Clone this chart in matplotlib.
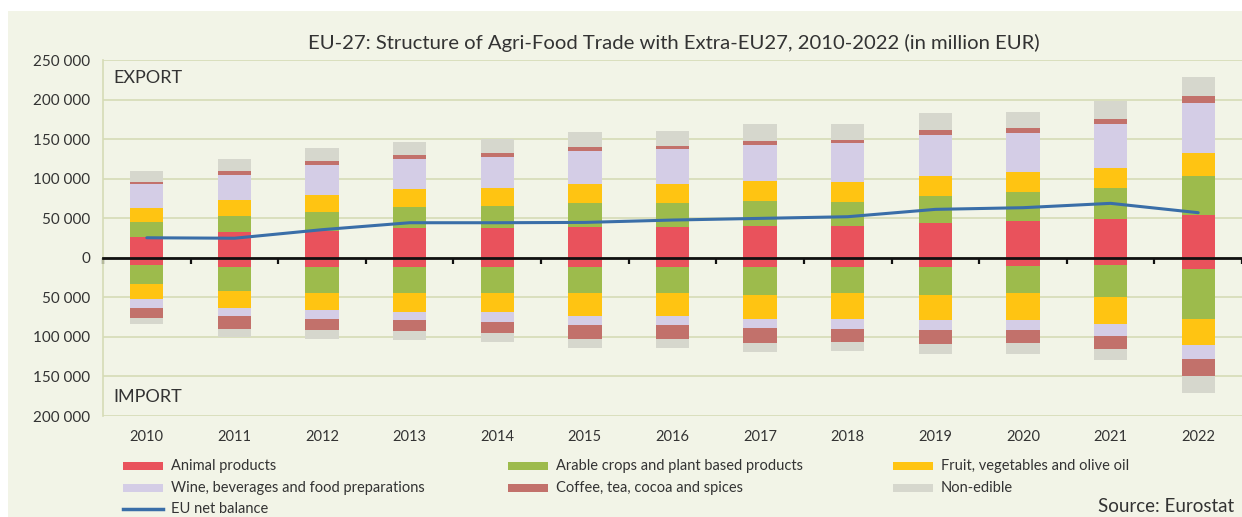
"""
EU-27 agri-food trade structure with extra-EU27 partners, 2010-2022.
Stacked export bars above zero, import bars below, net balance line.
"""

import matplotlib
matplotlib.use("Agg")
import matplotlib.pyplot as plt
from matplotlib.patches import Rectangle
from matplotlib.lines import Line2D
from matplotlib.ticker import FuncFormatter, MultipleLocator
import numpy as np

years = ["2010", "2011", "2012", "2013", "2014", "2015", "2016",
         "2017", "2018", "2019", "2020", "2021", "2022"]

categories = [
    "Animal products",
    "Arable crops and plant based products",
    "Fruit, vegetables and olive oil",
    "Wine, beverages and food preparations",
    "Coffee, tea, cocoa and spices",
    "Non-edible",
]
colors = ["#E9525C", "#9DBB4C", "#FFC412", "#D4CDE6", "#C2716B", "#D6D7CD"]

# million EUR
export_animal = [26600, 32900, 34200, 37100, 37100, 39200, 39200, 40500, 40500, 44300, 46400, 48500, 54000]
export_arable = [19000, 20300, 24000, 27500, 28700, 29600, 29600, 31700, 29500, 33800, 36300, 39300, 49400]
export_fruit = [17700, 19800, 21100, 22300, 22800, 24400, 24400, 25300, 26200, 25300, 26200, 25300, 28700]
export_wine = [29500, 32100, 38500, 38000, 39200, 42200, 43900, 45100, 48500, 51900, 49300, 56100, 64100]
export_coffee = [3400, 4500, 4500, 4500, 4300, 5100, 4700, 5500, 4300, 6300, 5500, 6300, 8900]
export_nonedible = [13900, 15300, 16100, 17400, 18100, 18100, 19000, 20700, 19800, 21100, 21100, 23200, 24000]

import_animal = [9300, 11400, 11400, 11400, 12200, 12200, 12200, 12200, 12200, 12200, 10500, 9300, 14300]
import_arable = [24000, 30800, 32500, 33700, 31700, 32100, 31700, 35100, 32900, 35100, 34600, 40900, 62500]
import_fruit = [19400, 20700, 22300, 23300, 24500, 29500, 29500, 29500, 31700, 30800, 33000, 32900, 33700]
import_wine = [10200, 10900, 10600, 10500, 12600, 11400, 11000, 11800, 12600, 13500, 12600, 16100, 17800]
import_coffee = [12600, 15600, 13900, 13500, 13900, 16900, 17700, 19000, 16900, 16800, 16900, 15600, 21500]
import_nonedible = [8500, 10600, 11400, 11000, 11400, 11400, 11400, 11400, 11400, 12700, 13500, 14800, 21100]

net_balance = [25300, 24700, 35500, 44300, 44300, 44700, 47700, 49800, 51900, 61200, 63300, 68800, 57000]

exports = [export_animal, export_arable, export_fruit, export_wine, export_coffee, export_nonedible]
imports = [import_animal, import_arable, import_fruit, import_wine, import_coffee, import_nonedible]

BG = "#F2F4E7"
GRID = "#D6DBB6"
TEXT = "#333333"
FONT = "Lato"

plt.rcParams["font.family"] = [FONT, "DejaVu Sans"]

W, H = 1242, 517
fig = plt.figure(figsize=(W / 100, H / 100), dpi=100, facecolor=BG)

# white margin at top/left of the scanned chart
fig.patches.append(Rectangle((0, 1 - 11 / H), 1, 11 / H, transform=fig.transFigure,
                             facecolor="white", edgecolor="none", zorder=0))
fig.patches.append(Rectangle((0, 0), 8 / W, 1, transform=fig.transFigure,
                             facecolor="white", edgecolor="none", zorder=0))

ax_left, ax_right, ax_top, ax_bottom = 103, 1242, 60, 416
ax = fig.add_axes([ax_left / W, 1 - ax_bottom / H, (ax_right - ax_left) / W, (ax_bottom - ax_top) / H])
ax.set_facecolor(BG)

x = np.arange(len(years))
bar_w = 0.38

# exports stacked upward
bottom = np.zeros(len(years))
for vals, col in zip(exports, colors):
    vals = np.array(vals)
    ax.bar(x, vals, bar_w, bottom=bottom, color=col, edgecolor="none", zorder=2)
    bottom += vals

# imports stacked downward
bottom = np.zeros(len(years))
for vals, col in zip(imports, colors):
    vals = np.array(vals)
    ax.bar(x, -vals, bar_w, bottom=bottom, color=col, edgecolor="none", zorder=2)
    bottom -= vals

ax.plot(x, net_balance, color="#3A6EA8", linewidth=2.2, zorder=4, solid_capstyle="round")

ax.set_xlim(-0.5, len(years) - 0.5)
ax.set_ylim(-200000, 250000)
ax.yaxis.set_major_locator(MultipleLocator(50000))
ax.yaxis.set_major_formatter(FuncFormatter(lambda v, p: f"{abs(int(round(v))):,}".replace(",", " ")))
ax.grid(axis="y", color=GRID, linewidth=1.2, zorder=0)
ax.set_axisbelow(True)

for side in ["top", "right"]:
    ax.spines[side].set_visible(False)
ax.spines["left"].set_color(GRID)
ax.spines["left"].set_linewidth(1.2)

# zero line with category boundary ticks
ax.spines["bottom"].set_position(("data", 0))
ax.spines["bottom"].set_color("#111111")
ax.spines["bottom"].set_linewidth(2.0)
ax.spines["bottom"].set_zorder(3)
ax.set_xticks(np.arange(-0.5, len(years), 1.0))
ax.tick_params(axis="x", length=4, width=1.6, color="#111111", labelbottom=False, direction="out")
ax.tick_params(axis="y", length=0, labelsize=11, labelcolor=TEXT, pad=9)

for i, yr in enumerate(years):
    ax.text(i, -0.058, yr, transform=ax.get_xaxis_transform(), ha="center", va="center",
            fontsize=10.5, color=TEXT)

ax.text(10 / (ax_right - ax_left), 1 - 18 / (ax_bottom - ax_top), "EXPORT", transform=ax.transAxes,
        ha="left", va="center", fontsize=13, color=TEXT)
ax.text(10 / (ax_right - ax_left), 19 / (ax_bottom - ax_top), "IMPORT", transform=ax.transAxes,
        ha="left", va="center", fontsize=13, color=TEXT)

fig.text(674 / W, 1 - 43 / H, "EU-27: Structure of Agri-Food Trade with Extra-EU27, 2010-2022 (in million EUR)",
         ha="center", va="center", fontsize=14.6, color=TEXT)

# legend drawn by hand to match the original layout
col_x = [123, 508, 893]
row_y = [466, 488, 509]
handle_w, handle_h = 40, 8
for k, (label, col) in enumerate(zip(categories, colors)):
    cx = col_x[k % 3]
    ry = row_y[k // 3]
    fig.patches.append(Rectangle((cx / W, 1 - (ry + handle_h / 2) / H), handle_w / W, handle_h / H,
                                 transform=fig.transFigure, facecolor=col, edgecolor="none"))
    fig.text((cx + handle_w + 8) / W, 1 - ry / H, label, ha="left", va="center", fontsize=10.5, color=TEXT)

fig.lines.append(Line2D([col_x[0] / W, (col_x[0] + handle_w) / W], [1 - row_y[2] / H, 1 - row_y[2] / H],
                        transform=fig.transFigure, color="#3A6EA8", linewidth=2.5))
fig.text((col_x[0] + handle_w + 8) / W, 1 - row_y[2] / H, "EU net balance", ha="left", va="center",
         fontsize=10.5, color=TEXT)

fig.text(1234 / W, 1 - 507 / H, "Source: Eurostat", ha="right", va="center", fontsize=13.5, color=TEXT)

fig.savefig("out.png", dpi=100, facecolor=fig.get_facecolor())
